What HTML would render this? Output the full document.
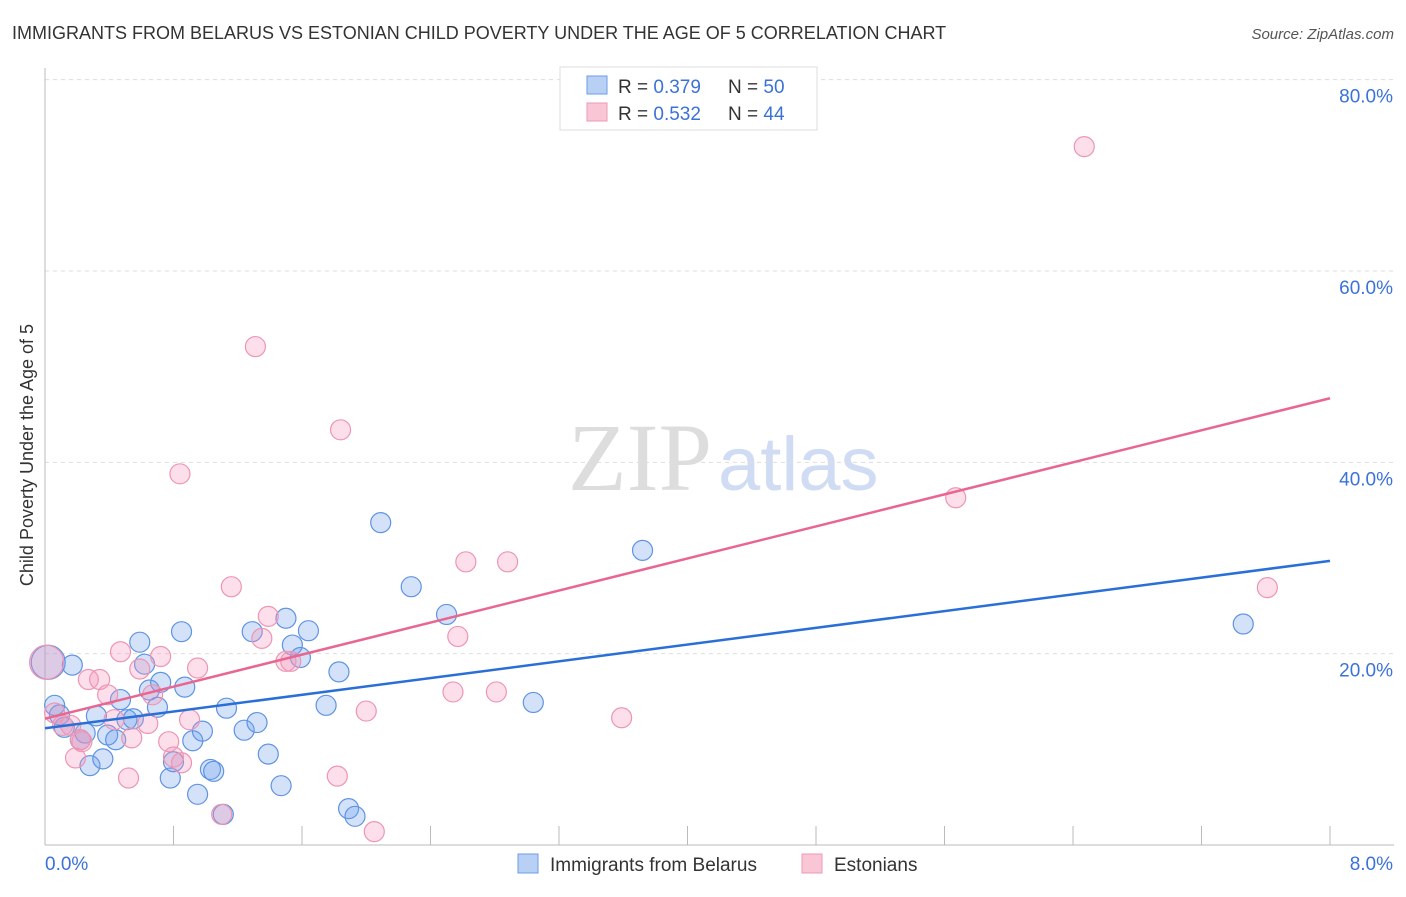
<!DOCTYPE html>
<html><head><meta charset="utf-8"><style>
body{margin:0;background:#fff;font-family:"Liberation Sans",sans-serif;}
</style></head><body>
<svg width="1406" height="892" xmlns="http://www.w3.org/2000/svg" id="chart" style="font-family:'Liberation Sans',sans-serif">
<text x="12" y="39" font-size="18" fill="#333">IMMIGRANTS FROM BELARUS VS ESTONIAN CHILD POVERTY UNDER THE AGE OF 5 CORRELATION CHART</text>
<text x="1394" y="39" font-size="15" fill="#555" font-style="italic" text-anchor="end">Source: ZipAtlas.com</text>
<text x="712" y="490" font-size="96" fill="#ddd" text-anchor="end" font-family="Liberation Serif,serif">ZIP</text>
<text x="718" y="490" font-size="76" fill="#cfdcf3">atlas</text>
<text transform="translate(33,455) rotate(-90)" font-size="18" fill="#333" text-anchor="middle">Child Poverty Under the Age of 5</text>
<g id="grid"></g><g id="axes"></g><g id="pts"></g><g id="lines"></g>
<g>
<rect x="560" y="67" width="257" height="63" fill="#fff" stroke="#ddd"/>
<rect x="587" y="76" width="20" height="18" fill="#b9d0f5" stroke="#6b9be6"/>
<rect x="587" y="103" width="20" height="18" fill="#f9c6d6" stroke="#ef98b5"/>
<text x="618" y="93" font-size="19" fill="#333">R = <tspan fill="#3b72d9">0.379</tspan></text>
<text x="728" y="93" font-size="19" fill="#333">N = <tspan fill="#3b72d9">50</tspan></text>
<text x="618" y="120" font-size="19" fill="#333">R = <tspan fill="#3b72d9">0.532</tspan></text>
<text x="728" y="120" font-size="19" fill="#333">N = <tspan fill="#3b72d9">44</tspan></text>
</g>
<g>
<rect x="518" y="854" width="20" height="19" fill="#b9d0f5" stroke="#6b9be6"/>
<text x="550" y="871" font-size="19" fill="#333">Immigrants from Belarus</text>
<rect x="802" y="854" width="20" height="19" fill="#f9c6d6" stroke="#ef98b5"/>
<text x="834" y="871" font-size="19" fill="#333">Estonians</text>
</g>
</svg>
<script>
const blueX=[.02,.06,.17,.09,.12,.22,.25,.28,.36,.32,.39,.44,.47,.51,.55,.59,.62,.65,.70,.72,.78,.80,.85,.87,.92,.95,.98,1.03,1.05,1.11,1.13,1.24,1.29,1.32,1.39,1.47,1.50,1.54,1.59,1.64,1.75,1.83,1.89,1.93,2.09,2.28,2.50,3.04,3.72,7.46];
const blueY=[19.1,14.6,18.8,13.6,12.3,11.0,11.7,8.3,9.0,13.5,11.5,11.0,15.2,13.1,13.2,21.2,18.9,16.2,14.4,17.0,7.0,8.7,22.3,16.5,10.9,5.3,11.9,7.9,7.7,3.2,14.3,12.0,22.3,12.8,9.5,6.2,23.7,20.9,19.6,22.4,14.6,18.1,3.8,3.0,33.7,27.0,24.1,14.9,30.8,23.1];
const pinkX=[.01,.06,.11,.19,.23,.27,.34,.39,.43,.47,.52,.54,.59,.64,.67,.72,.77,.80,.85,.90,.95,1.10,1.16,1.31,1.35,1.39,1.50,1.53,1.82,1.84,2.00,2.05,.84,2.57,2.54,2.62,2.81,2.88,3.59,5.67,6.47,7.61,.16,.22];
const pinkY=[19.1,13.8,12.5,9.1,10.8,17.3,17.3,15.7,13.1,20.2,7.0,11.2,18.4,12.7,15.7,19.7,10.8,9.2,8.6,13.1,18.5,3.2,27.0,52.1,21.6,23.9,19.2,19.2,7.2,43.4,14.0,1.4,38.8,21.8,16.0,29.6,16.0,29.6,13.3,36.3,73.0,26.9,12.5,11.0];
const blueTrend=[12.2,29.7];
const pinkTrend=[13.2,46.7];
const yTicks=[20,40,60,80];
const xTicks=[0,0.8,1.6,2.4,3.2,4.0,4.8,5.6,6.4,7.2,8.0];
const NS='http://www.w3.org/2000/svg';
const X=v=>45+v*(1285/8), Y=v=>845-v*(574/60);
function mk(tag,attrs,parent){const e=document.createElementNS(NS,tag);for(const k in attrs)e.setAttribute(k,attrs[k]);document.getElementById(parent).appendChild(e);return e;}
yTicks.forEach(t=>{
 const l=mk('line',{x1:45,x2:1394,y1:Y(t),y2:Y(t),stroke:'#ddd','stroke-dasharray':'4,4'},'grid');
 
 
 const tx=mk('text',{x:1393,y:Y(t)+23,'font-size':19,fill:'#3b72d9','text-anchor':'end'},'grid');
 tx.textContent=t.toFixed(1)+'%';
 
 
});
const ax=mk('line',{x1:45,x2:1394,y1:845,y2:845,stroke:'#bbb'},'axes');


const ay=mk('line',{x1:45,x2:45,y1:68,y2:845,stroke:'#bbb'},'axes');


xTicks.forEach((t,i)=>{if(i==0)return;
 const l=mk('line',{x1:X(t),x2:X(t),y1:826,y2:845,stroke:'#bbb'},'axes');
 
 
});
[[0,'0.0%',45,'start'],[8,'8.0%',1393,'end']].forEach(a=>{
 const t=mk('text',{x:a[2],y:870,'font-size':19,fill:'#3b72d9','text-anchor':a[3]},'axes');
 t.textContent=a[1];
 
 
});
function pts(xs,ys,fill,stroke,name){xs.forEach((x,i)=>{
 const r=(i==0)?17:10;
 const c=mk('circle',{cx:X(x),cy:Y(ys[i]),r:r,fill:fill,stroke:stroke,'stroke-width':1.2},'pts');
 
 
});}
pts(blueX,blueY,'rgba(110,160,235,0.3)','#5f93e3','belarus-point');
pts(pinkX,pinkY,'rgba(245,150,185,0.3)','#ee95b3','estonian-point');
const bl=mk('line',{x1:X(0),x2:X(8),y1:Y(blueTrend[0]),y2:Y(blueTrend[1]),stroke:'#2a6fd8','stroke-width':2.5},'lines');


const pl=mk('line',{x1:X(0),x2:X(8),y1:Y(pinkTrend[0]),y2:Y(pinkTrend[1]),stroke:'#e8668f','stroke-width':2.5},'lines');


</script>
</body></html>
